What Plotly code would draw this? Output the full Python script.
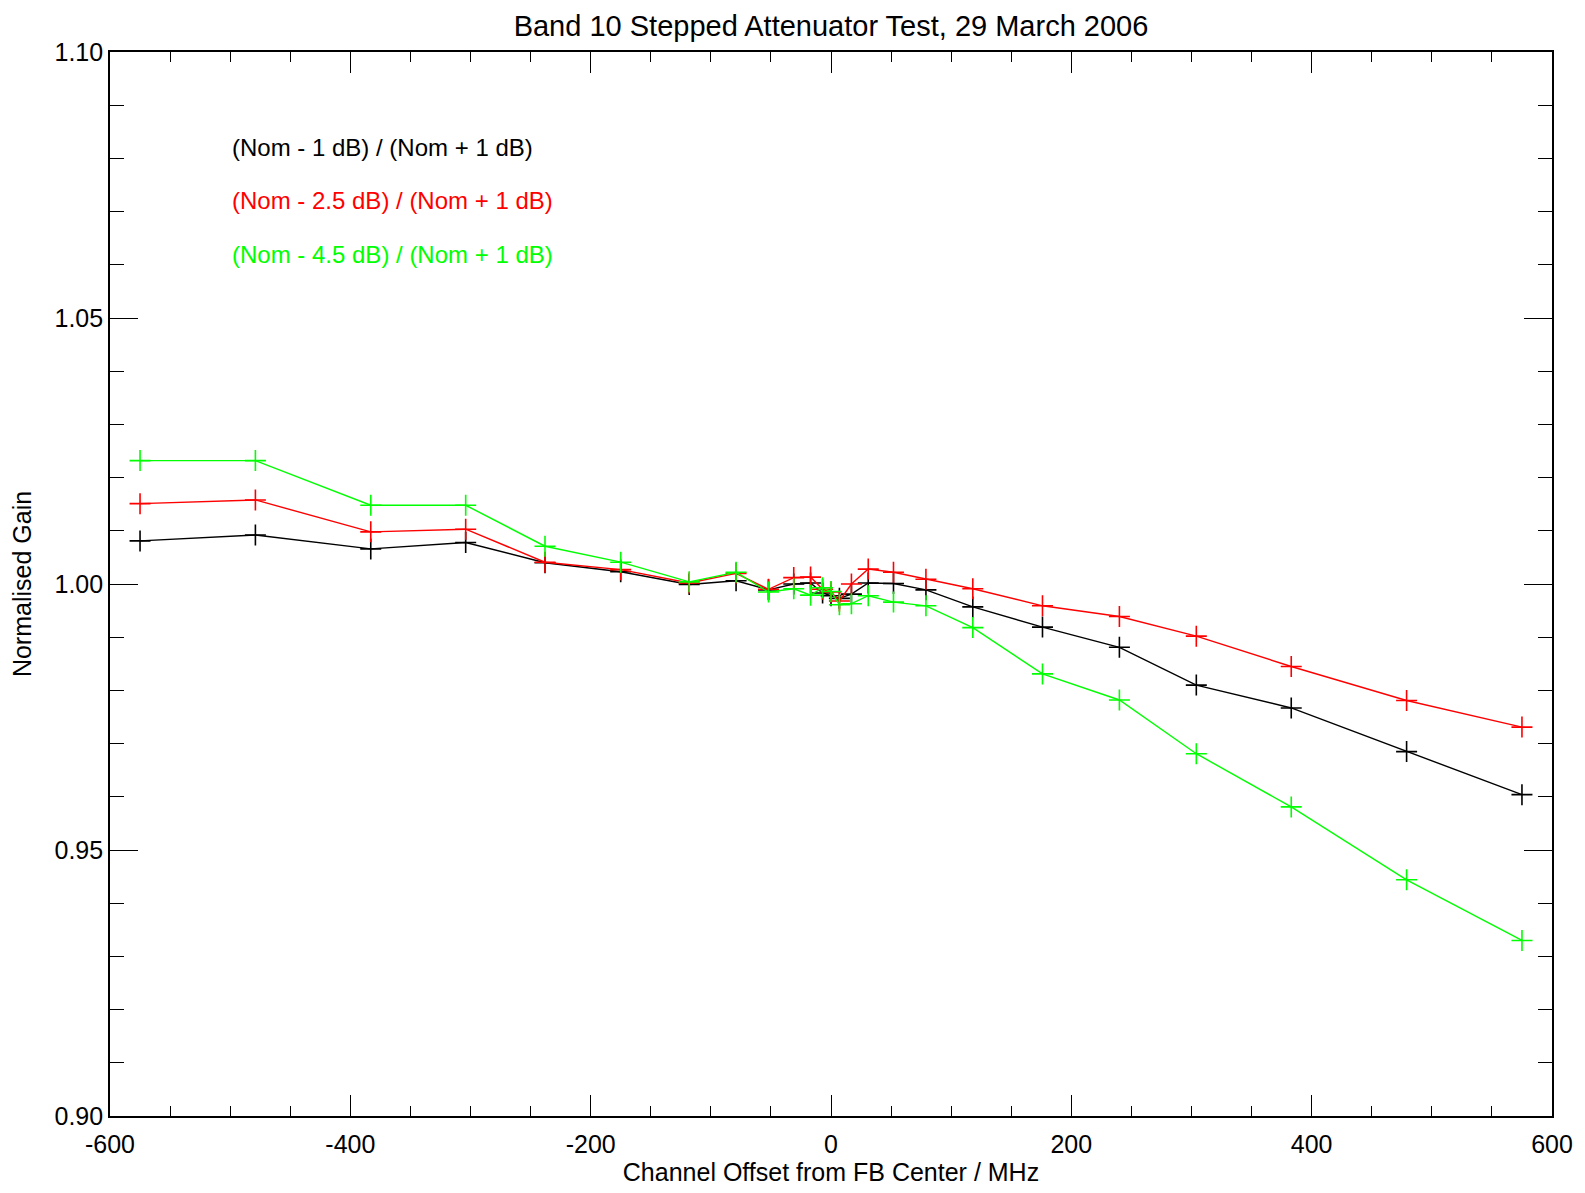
import plotly.graph_objects as go

# Channel offsets from filter-bank centre (MHz)
offset_mhz = [-575, -479, -383, -304, -238, -175, -118, -79, -52, -31, -17, -7, 0,
              7, 17, 31, 52, 79, 118, 176, 240, 304, 383, 479, 575]

# Normalised gain ratios for each attenuator step
gain_1db = [1.0081, 1.0092, 1.0066, 1.0078, 1.0040, 1.0023, 0.9999, 1.0006, 0.9989,
            1.0000, 1.0002, 0.9983, 0.9978, 0.9973, 0.9981, 1.0002, 1.0001, 0.9989,
            0.9957, 0.9919, 0.9881, 0.9810, 0.9767, 0.9685, 0.9604]
gain_2p5db = [1.0151, 1.0158, 1.0098, 1.0103, 1.0041, 1.0027, 1.0002, 1.0020, 0.9990,
              1.0012, 1.0013, 0.9990, 0.9985, 0.9968, 1.0000, 1.0028, 1.0022, 1.0009,
              0.9991, 0.9959, 0.9939, 0.9902, 0.9845, 0.9781, 0.9731]
gain_4p5db = [1.0232, 1.0232, 1.0148, 1.0148, 1.0071, 1.0041, 1.0004, 1.0022, 0.9985,
              0.9991, 0.9979, 0.9993, 0.9986, 0.9961, 0.9963, 0.9978, 0.9966, 0.9959,
              0.9918, 0.9831, 0.9782, 0.9681, 0.9581, 0.9444, 0.9330]

x_tick_values = [-600, -400, -200, 0, 200, 400, 600]
x_tick_labels = ["-600", "-400", "-200", "0", "200", "400", "600"]

series_names = ["(Nom - 1 dB) / (Nom + 1 dB)",
                "(Nom - 2.5 dB) / (Nom + 1 dB)",
                "(Nom - 4.5 dB) / (Nom + 1 dB)"]
series_colors = ["#000000", "#ff0000", "#00ff00"]
series_values = [gain_1db, gain_2p5db, gain_4p5db]
label_y = [1.082, 1.072, 1.062]

FONT = "Liberation Sans Narrow, Arial Narrow, Liberation Sans, sans-serif"

fig = go.Figure()
for name, color, vals in zip(series_names, series_colors, series_values):
    fig.add_trace(go.Scatter(
        x=offset_mhz, y=vals, mode="lines+markers", name=name,
        line=dict(color=color, width=1.4),
        marker=dict(symbol="cross-thin", size=15,
                    line=dict(color=color, width=1.6)),
        showlegend=False,
    ))

for name, color, yv in zip(series_names, series_colors, label_y):
    fig.add_annotation(x=-500, y=yv, xref="x", yref="y", text=name,
                       showarrow=False, xanchor="left", yanchor="middle",
                       font=dict(family=FONT, size=24, color=color))

axis_common = dict(
    showgrid=False, zeroline=False, showline=True, linecolor="black",
    linewidth=1.6, mirror="ticks", ticks="inside", tickcolor="black",
    tickwidth=1.3, tickfont=dict(family=FONT, size=25, color="black"),
)

fig.update_xaxes(
    range=[-600, 600], tickmode="array", tickvals=x_tick_values,
    ticktext=x_tick_labels, ticklen=21, ticklabelstandoff=5,
    minor=dict(dtick=50, tick0=-600, ticks="inside", ticklen=10,
               tickcolor="black", tickwidth=1.3),
    title=dict(text="Channel Offset from FB Center / MHz",
               font=dict(family=FONT, size=25, color="black"), standoff=6),
    **axis_common,
)
fig.update_yaxes(
    range=[0.90, 1.10], tick0=0.90, dtick=0.05, ticklen=28, tickformat=".2f",
    minor=dict(dtick=0.01, ticks="inside", ticklen=14, tickcolor="black", tickwidth=1.3),
    title=dict(text="Normalised Gain",
               font=dict(family=FONT, size=25, color="black"), standoff=16),
    **axis_common,
)

fig.update_layout(
    width=1585, height=1193,
    margin=dict(l=110, r=30, t=52, b=75),
    plot_bgcolor="white", paper_bgcolor="white",
    title=dict(text="Band 10 Stepped Attenuator Test, 29 March 2006",
               x=0.5, xref="paper", xanchor="center", y=0.978, yanchor="middle",
               font=dict(family=FONT, size=29, color="black")),
)

fig.write_html("out.html")
